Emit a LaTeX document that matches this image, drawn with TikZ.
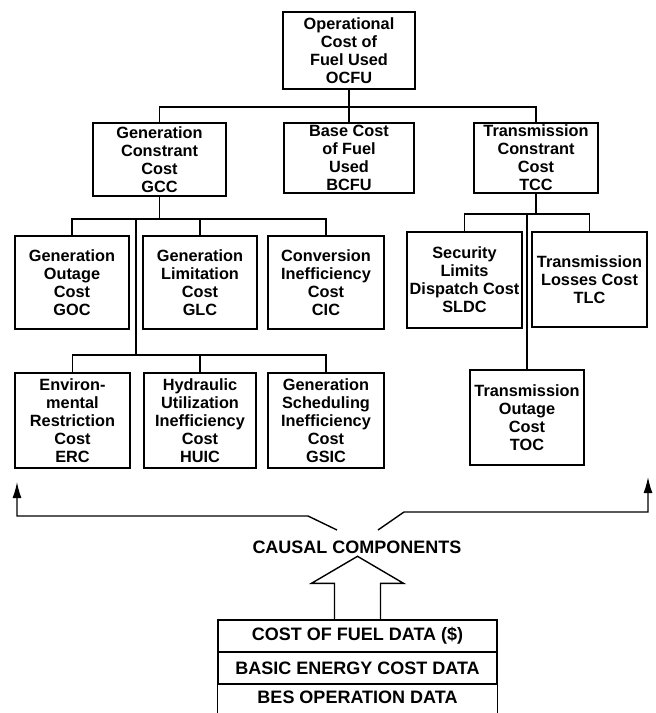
\documentclass[tikz,border=0pt]{standalone}
\usepackage{fontspec}
\setmainfont{Liberation Sans}
\usetikzlibrary{arrows.meta}

\tikzset{
  costbox/.style={draw, line width=1.4pt, align=center, inner sep=0pt,
    font=\bfseries\fontsize{16.3}{18}\selectfont},
  databar/.style={draw, line width=1.4pt, minimum width=279pt, minimum height=32pt,
    inner sep=0pt, font=\bfseries\fontsize{18}{20}\selectfont},
  link/.style={line width=1.4pt},
  uparrow/.style={line width=1.4pt, -{Latex[length=16pt,width=9pt]}}
}

\begin{document}
\begin{tikzpicture}[x=1pt,y=-1pt]
  \useasboundingbox (0,0) rectangle (656,713);

  % top of the tree
  \node[costbox, minimum width=132pt, minimum height=77pt] (ocfu) at (349,50.5) {Operational\\Cost of\\Fuel Used\\OCFU};
  \node[costbox, minimum width=133pt, minimum height=73pt] (gcc) at (159.5,159.5) {Generation\\Constrant\\Cost\\GCC};
  \node[costbox, minimum width=130pt, minimum height=70pt] (bcfu) at (349,158) {Base Cost\\of Fuel\\Used\\BCFU};
  \node[costbox, minimum width=124pt, minimum height=70pt] (tcc) at (536,158) {Transmission\\Constrant\\Cost\\TCC};

  % generation constraint components
  \node[costbox, minimum width=114pt, minimum height=93pt] (goc) at (72,282.5) {Generation\\Outage\\Cost\\GOC};
  \node[costbox, minimum width=114pt, minimum height=93pt] (glc) at (200,282.5) {Generation\\Limitation\\Cost\\GLC};
  \node[costbox, minimum width=116pt, minimum height=93pt] (cic) at (326,282.5) {Conversion\\Inefficiency\\Cost\\CIC};
  \node[costbox, minimum width=115pt, minimum height=95pt] (erc) at (72.5,420.5) {Environ-\\mental\\Restriction\\Cost\\ERC};
  \node[costbox, minimum width=112pt, minimum height=95pt] (huic) at (200,420.5) {Hydraulic\\Utilization\\Inefficiency\\Cost\\HUIC};
  \node[costbox, minimum width=116pt, minimum height=95pt] (gsic) at (326,420.5) {Generation\\Scheduling\\Inefficiency\\Cost\\GSIC};

  % transmission constraint components
  \node[costbox, minimum width=115pt, minimum height=96pt] (sldc) at (464.5,280) {Security\\Limits\\Dispatch Cost\\SLDC};
  \node[costbox, minimum width=115pt, minimum height=95pt] (tlc) at (589.5,279.5) {Transmission\\Losses Cost\\TLC};
  \node[costbox, minimum width=114pt, minimum height=95pt] (toc) at (527,417.5) {Transmission\\Outage\\Cost\\TOC};

  % tree links
  \draw[link] (ocfu.south) -- (ocfu.south |- 0,107) coordinate (topbus);
  \draw[link] (gcc.north) |- (topbus) -| (tcc.north);
  \draw[link] (topbus) -- (bcfu.north);

  \draw[link] (gcc.south) -- (gcc.south |- 0,219) coordinate (genbus);
  \draw[link] (goc.north) |- (genbus) -| (cic.north);
  \draw[link] (glc.north) -- (glc.north |- genbus);
  \coordinate (gentrunk) at (136,219);
  \draw[link] (gentrunk) -- (136,355) coordinate (lowbus);
  \draw[link] (erc.north) |- (lowbus) -| (gsic.north);
  \draw[link] (huic.north) -- (huic.north |- lowbus);

  \draw[link] (tcc.south) -- (tcc.south |- 0,214) coordinate (trbus);
  \draw[link] (sldc.north) |- (trbus) -| (tlc.north);
  \draw[link] (toc.north) -- (toc.north |- trbus);

  % causal components
  \node[font=\bfseries\fontsize{18}{20}\selectfont] (causal) at (357,547) {CAUSAL COMPONENTS};
  \coordinate (lefttip) at (17,482);
  \coordinate (righttip) at (648,477);
  \draw[uparrow] (337,530) -- (308,516) -- (lefttip |- 0,516) -- (lefttip);
  \draw[uparrow] (378,530) -- (404,512) -- (righttip |- 0,512) -- (righttip);

  % data stack
  \node[databar] (fuel) at (357.5,636) {COST OF FUEL DATA (\$)};
  \node[databar] (energy) at (357.5,668) {BASIC ENERGY COST DATA};
  \node[font=\bfseries\fontsize{18}{20}\selectfont] (bes) at (357.5,697) {BES OPERATION DATA};
  \draw[link] (energy.south west) -- (energy.south west |- 0,713);
  \draw[link] (energy.south east) -- (energy.south east |- 0,713);

  % hollow arrow
  \draw[link, line join=miter] ([xshift=-23pt]fuel.north) -- ([xshift=-23pt,yshift=36pt]fuel.north)
    -- ([xshift=-46pt,yshift=36pt]fuel.north) -- ([yshift=63pt]fuel.north)
    -- ([xshift=46pt,yshift=36pt]fuel.north) -- ([xshift=23pt,yshift=36pt]fuel.north)
    -- ([xshift=23pt]fuel.north);
\end{tikzpicture}
\end{document}
